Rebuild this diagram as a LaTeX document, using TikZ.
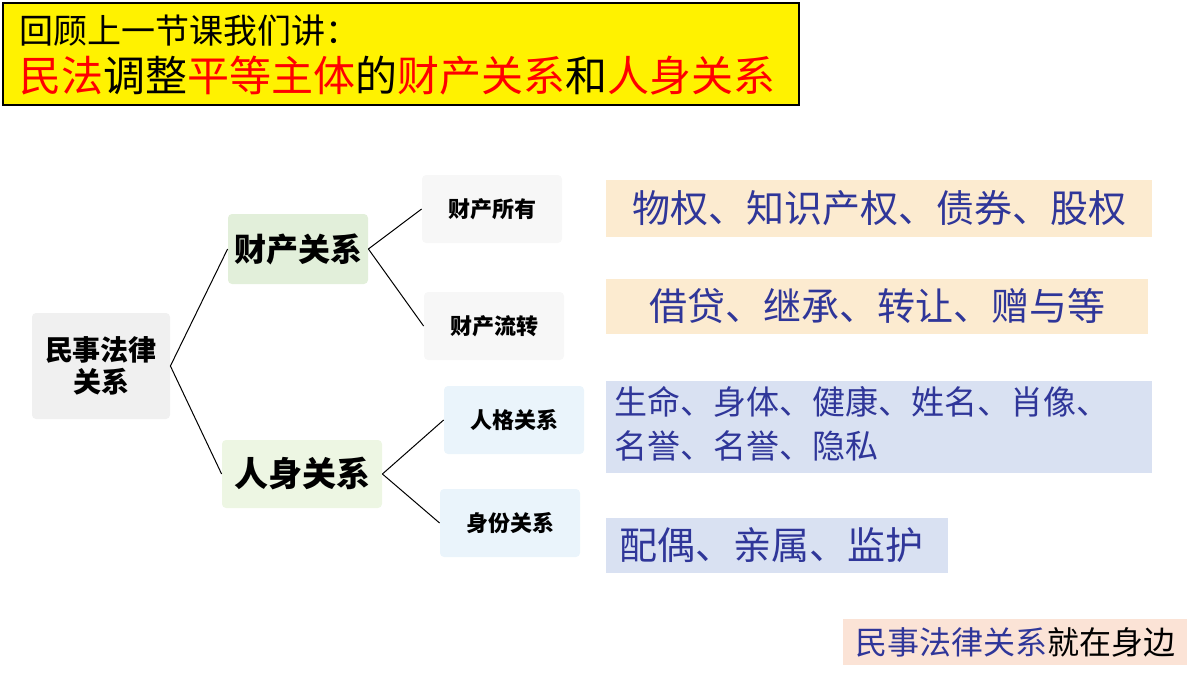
\documentclass[tikz,border=0pt]{standalone}
\usepackage{fontspec}
\setmainfont{Noto Sans CJK SC}
\usetikzlibrary{positioning}
\definecolor{navyblue}{HTML}{2F3699}
\definecolor{ltgreen}{HTML}{E2EFDA}
\definecolor{ltgreenb}{HTML}{EDF6E3}
\definecolor{ltblue}{HTML}{EAF4FB}
\definecolor{peach}{HTML}{FCEBD0}
\definecolor{lavender}{HTML}{D9E1F2}
\definecolor{pink}{HTML}{FBE3D6}
\begin{document}
\begin{tikzpicture}[x=0.5pt,y=-0.5pt]
        \tikzstyle{box}=[rectangle, rounded corners=2pt, inner sep=0pt, align=center, text=black]
        \tikzstyle{item}=[rectangle, inner sep=0pt, text=navyblue, font=\fontsize{19}{22}\selectfont]
        \tikzstyle{edge}=[black, line width=0.5pt]
        \useasboundingbox (0,0) rectangle (1200,675);

        % banner
        \node[draw=black, line width=0.8pt, fill=yellow, minimum width=398pt, minimum height=51pt, anchor=north west] (banner) at (2,2) {};
        \node[anchor=west, font=\fontsize{17}{19}\selectfont] (line1) at (12,31) {回顾上一节课我们讲：};
        \node[anchor=west, font=\fontsize{21}{23}\selectfont] (line2) at (12,76)
          {\textcolor{red}{民法}调整\textcolor{red}{平等主体}的\textcolor{red}{财产关系}和\textcolor{red}{人身关系}};

        % tree
        \node[box, fill=gray!12, minimum width=69pt, minimum height=53pt, font=\bfseries\fontsize{14}{16}\selectfont] (root) at (101,366) {民事法律\\关系};
        \node[box, fill=ltgreen, minimum width=70pt, minimum height=35pt, font=\bfseries\fontsize{16}{18}\selectfont] (prop) at (298,249) {财产关系};
        \node[box, fill=ltgreenb, minimum width=80pt, minimum height=34pt, font=\bfseries\fontsize{17}{19}\selectfont] (pers) at (302,474) {人身关系};
        \node[box, fill=gray!6, minimum width=70pt, minimum height=34pt, font=\bfseries\fontsize{11}{13}\selectfont] (own) at (492,209) {财产所有};
        \node[box, fill=gray!6, minimum width=70pt, minimum height=34pt, font=\bfseries\fontsize{11}{13}\selectfont] (flow) at (494,326) {财产流转};
        \node[box, fill=ltblue, minimum width=70pt, minimum height=34pt, font=\bfseries\fontsize{11}{13}\selectfont] (char) at (514,420) {人格关系};
        \node[box, fill=ltblue, minimum width=70pt, minimum height=34pt, font=\bfseries\fontsize{11}{13}\selectfont] (ident) at (510,523) {身份关系};

        \draw[edge] (root.east) -- (prop.west);
        \draw[edge] (root.east) -- (pers.west);
        \draw[edge] (prop.east) -- (own.west);
        \draw[edge] (prop.east) -- (flow.west);
        \draw[edge] (pers.east) -- (char.west);
        \draw[edge] (pers.east) -- (ident.west);

        % examples
        \node[item, fill=peach, minimum width=273pt, minimum height=28.5pt] (ex1) at (879,208) {物权、知识产权、债券、股权};
        \node[item, fill=peach, minimum width=271pt, minimum height=27.5pt] (ex2) at (877,306) {借贷、继承、转让、赠与等};
        \node[item, fill=lavender, minimum width=273pt, minimum height=46pt] (ex3) at (879,427) {};
        \node[item, anchor=north west, align=left, font=\fontsize{16.5}{22}\selectfont] (ex3t) at (614,386) {生命、身体、健康、姓名、肖像、\\名誉、名誉、隐私};
        \node[item, fill=lavender, minimum width=171pt, minimum height=27.5pt, anchor=west, inner xsep=6pt, align=left] (ex4) at (606,545) {配偶、亲属、监护\hspace{6pt}};

        \node[item, fill=pink, minimum width=172pt, minimum height=23pt, text=black, font=\fontsize{16}{18}\selectfont] (note) at (1015,642) {\textcolor{navyblue}{民事法律关系}就在身边};
    \end{tikzpicture}
\end{document}
